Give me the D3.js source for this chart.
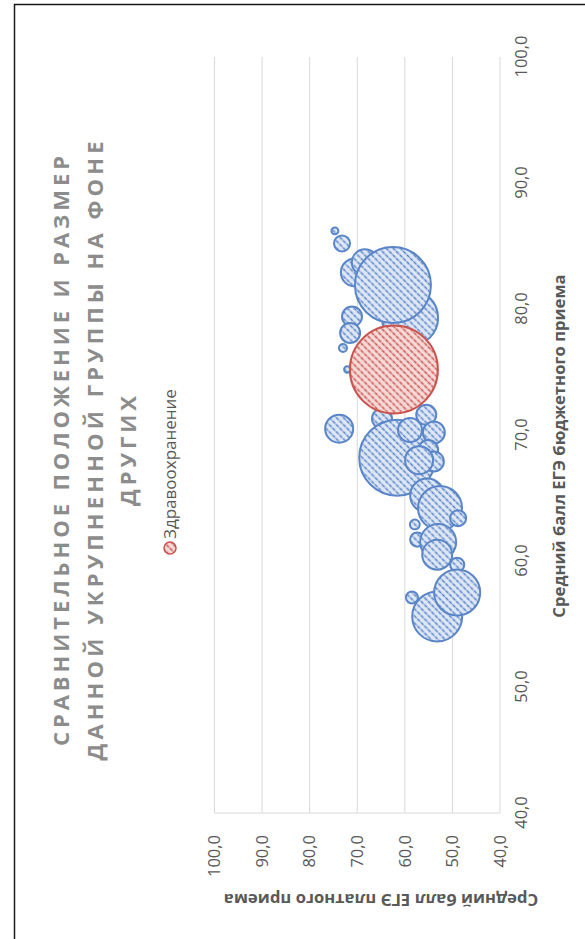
<!DOCTYPE html>
<html><head><meta charset="utf-8">
<script src="https://cdn.jsdelivr.net/npm/d3@7"></script>
<style>html,body{margin:0;padding:0;background:#fff;} svg{display:block;}</style>
</head><body>
<script>
// ---------- data ----------
const titleLines = ["СРАВНИТЕЛЬНОЕ ПОЛОЖЕНИЕ И РАЗМЕР", "ДАННОЙ УКРУПНЕННОЙ ГРУППЫ НА ФОНЕ", "ДРУГИХ"];
const xTitle = "Средний балл ЕГЭ бюджетного приема";
const yTitle = "Средний балл ЕГЭ платного приема";
const legendLabel = "Здравоохранение";
const xTicks = [40, 50, 60, 70, 80, 90, 100];
const yTicks = [40, 50, 60, 70, 80, 90, 100];
const tickFormat = v => v.toFixed(1).replace(".", ",");

// other enlarged groups (drawing order)
const otherBudget = [79.3, 82.9, 83.7, 81.9, 86.2, 85.2, 79.4, 78.1, 76.9, 75.2, 70.5, 71.3, 68.2, 70.4, 71.6, 70.2, 68.8, 67.9, 68.0, 65.2, 64.2, 63.4, 62.9, 61.7, 61.5, 60.5, 59.7, 55.6, 57.5, 57.1];
const otherPaid   = [58.9, 70.5, 68.4, 62.5, 74.7, 73.2, 71.1, 71.5, 73.0, 72.1, 73.8, 64.8, 61.6, 58.9, 55.5, 53.9, 55.1, 53.9, 57.0, 55.3, 52.6, 48.8, 57.9, 57.4, 53.0, 53.2, 49.0, 53.2, 49.0, 58.5];
const otherSize   = [392, 98, 85, 722, 6, 32, 50, 50, 8, 5, 98, 50, 722, 72, 50, 60, 50, 50, 98, 145, 242, 32, 12, 25, 162, 112, 25, 312, 265, 18];

// the highlighted group
const healthBudget = [75.2];
const healthPaid = [62.3];
const healthSize = [968];

// ---------- chart ----------
const W = 939, H = 585; // unrotated chart size
const svg = d3.select("body").append("svg").attr("width", 585).attr("height", 939);
const defs = svg.append("defs");

function stripePattern(id, bg, fg) {
  const p = defs.append("pattern").attr("id", id).attr("patternUnits", "userSpaceOnUse")
    .attr("width", 5).attr("height", 5).attr("patternTransform", "rotate(45)");
  p.append("rect").attr("width", 5).attr("height", 5).attr("fill", bg);
  p.append("line").attr("x1", 1.5).attr("y1", 0).attr("x2", 1.5).attr("y2", 5)
    .attr("stroke", fg).attr("stroke-width", 1.6).attr("stroke-dasharray", "2.5 1");
}
stripePattern("pBlue", "#e1e9f6", "#5a86c8");
stripePattern("pRed", "#f6dcda", "#cc5a55");

const g = svg.append("g").attr("transform", `translate(0,${W}) rotate(-90)`);

// frame
g.append("rect").attr("x", -10).attr("y", 14.5).attr("width", 944.5).attr("height", 700)
  .attr("fill", "#fff").attr("stroke", "#1a1a1a").attr("stroke-width", 1.5);

const x = d3.scaleLinear().domain([40, 100]).range([126, 882]);
const y = d3.scaleLinear().domain([40, 100]).range([500, 214.5]);
const r = d3.scaleSqrt().domain([0, d3.max(healthSize.concat(otherSize))]).range([0, 44]);

// gridlines
g.append("g").selectAll("line").data(yTicks).join("line")
  .attr("x1", x(40)).attr("x2", x(100)).attr("y1", d => y(d)).attr("y2", d => y(d))
  .attr("stroke", "#d9d9d9").attr("stroke-width", 1);
g.append("line").attr("x1", x(40)).attr("x2", x(40)).attr("y1", y(40)).attr("y2", y(100))
  .attr("stroke", "#d9d9d9").attr("stroke-width", 1);

// axes labels via d3 axes
const font = "'Open Sans', 'Liberation Sans', sans-serif";
const xAxis = g.append("g").attr("transform", `translate(0,${y(40)})`)
  .call(d3.axisBottom(x).tickValues(xTicks).tickFormat(tickFormat).tickSize(0).tickPadding(15));
const yAxis = g.append("g").attr("transform", `translate(${x(40)},0)`)
  .call(d3.axisLeft(y).tickValues(yTicks).tickFormat(tickFormat).tickSize(0).tickPadding(22));
[xAxis, yAxis].forEach(a => {
  a.select(".domain").remove();
  a.selectAll("text").attr("fill", "#595959").attr("font-family", font).attr("font-size", 16.5);
});

// bubbles
const others = otherBudget.map((b, i) => ({b, p: otherPaid[i], s: otherSize[i]}));
const health = healthBudget.map((b, i) => ({b, p: healthPaid[i], s: healthSize[i]}));
g.append("g").selectAll("circle").data(others).join("circle")
  .attr("cx", d => x(d.b)).attr("cy", d => y(d.p)).attr("r", d => r(d.s))
  .attr("fill", "url(#pBlue)").attr("stroke", "#5a86c8").attr("stroke-width", 2);
g.append("g").selectAll("circle").data(health).join("circle")
  .attr("cx", d => x(d.b)).attr("cy", d => y(d.p)).attr("r", d => r(d.s))
  .attr("fill", "url(#pRed)").attr("stroke", "#c9544f").attr("stroke-width", 2);

// title
const titleCenterV = [69, 103, 136];
const titleLens = [590, 619, 110];
g.append("g").selectAll("text").data(titleLines).join("text")
  .attr("x", 488).attr("y", (d, i) => titleCenterV[i])
  .attr("text-anchor", "middle").attr("font-family", font).attr("font-weight", "bold")
  .attr("font-size", 22).attr("fill", "#8c8c8c")
  .attr("textLength", (d, i) => titleLens[i]).attr("lengthAdjust", "spacing")
  .text(d => d);

// legend
g.append("circle").attr("cx", 391).attr("cy", 170).attr("r", 6)
  .attr("fill", "url(#pRed)").attr("stroke", "#c9544f").attr("stroke-width", 1.5);
g.append("text").attr("x", 400).attr("y", 170).attr("dy", "0.35em")
  .attr("font-family", font).attr("font-size", 17).attr("fill", "#595959").text(legendLabel);

// axis titles
g.append("text").attr("x", 493).attr("y", 565).attr("text-anchor", "middle")
  .attr("font-family", font).attr("font-weight", "bold").attr("font-size", 16.7)
  .attr("fill", "#595959").text(xTitle);
g.append("text").attr("transform", "translate(39,381) rotate(-90)").attr("dy", "0.35em")
  .attr("text-anchor", "middle")
  .attr("font-family", font).attr("font-weight", "bold").attr("font-size", 16.7)
  .attr("fill", "#595959").text(yTitle);
</script>
</body></html>
